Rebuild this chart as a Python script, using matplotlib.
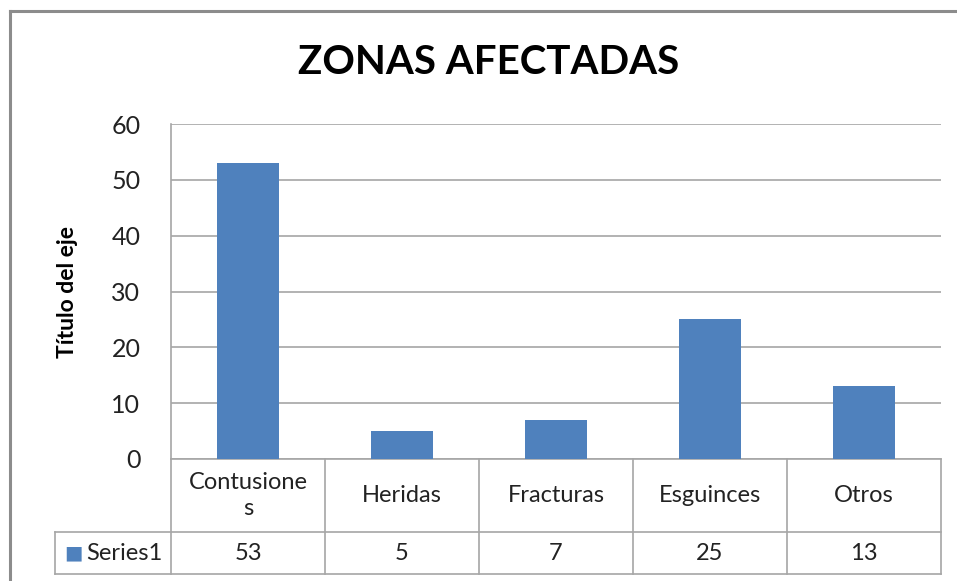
import matplotlib
matplotlib.use("Agg")
import matplotlib.pyplot as plt
from matplotlib.lines import Line2D

# Data -----------------------------------------------------------------------
categories = ["Contusiones", "Heridas", "Fracturas", "Esguinces", "Otros"]
header_labels = ["Contusione\ns", "Heridas", "Fracturas", "Esguinces", "Otros"]
series_name = "Series1"
values = [53, 5, 7, 25, 13]
y_ticks = [0, 10, 20, 30, 40, 50, 60]

# Style ----------------------------------------------------------------------
plt.rcParams["font.family"] = ["Lato", "DejaVu Sans"]
bar_color = "#4F81BD"
grid_color = "#A6A6A6"
text_color = "#222222"

W, H = 957, 581
fig = plt.figure(figsize=(W / 100, H / 100), dpi=100)

# plot area in pixels (left, top, right, bottom)
px_l, px_t, px_r, px_b = 171, 124, 941, 459
ax = fig.add_axes([px_l / W, 1 - px_b / H, (px_r - px_l) / W, (px_b - px_t) / H])

x = list(range(len(categories)))
ax.bar(x, values, width=0.4, color=bar_color, zorder=3)
ax.set_xlim(-0.5, len(categories) - 0.5)
ax.set_ylim(0, 60)
ax.set_yticks(y_ticks)
ax.set_xticks([])
ax.yaxis.grid(True, color=grid_color, linewidth=1.2, zorder=0)
ax.tick_params(axis="y", length=0, pad=22, labelsize=18, labelcolor=text_color)
for s in ["top", "right", "bottom"]:
    ax.spines[s].set_visible(False)
ax.spines["left"].set_color(grid_color)
ax.spines["left"].set_linewidth(1.2)
ax.set_ylabel("Título del eje", fontsize=16.5, fontweight="bold", labelpad=24)

fig.text(0.5 + 10 / W, 1 - 62 / H, "ZONAS AFECTADAS", ha="center", va="center",
         fontsize=29, fontweight="bold", color="black")

# Data table under the plot ---------------------------------------------------
tr = ax.get_xaxis_transform()
axh = px_b - px_t
row1 = -(532 - px_b) / axh
row2 = -(574 - px_b) / axh
col_w = (px_r - px_l) / len(categories)
tbl_left = -0.5 - (px_l - 55) / col_w
n = len(categories)

def hline(x0, x1, y):
    ax.add_line(Line2D([x0, x1], [y, y], transform=tr, color=grid_color,
                       linewidth=1.2, clip_on=False))

def vline(xv, y0, y1):
    ax.add_line(Line2D([xv, xv], [y0, y1], transform=tr, color=grid_color,
                       linewidth=1.2, clip_on=False))

hline(-0.5, n - 0.5, 0)
hline(tbl_left, n - 0.5, row1)
hline(tbl_left, n - 0.5, row2)
for k in range(n + 1):
    vline(k - 0.5, 0, row2)
vline(tbl_left, row1, row2)

for k, (lab, v) in enumerate(zip(header_labels, values)):
    ax.text(k, row1 / 2, lab, transform=tr, ha="center", va="center",
            fontsize=17, color=text_color, linespacing=1.35)
    ax.text(k, (row1 + row2) / 2, str(v), transform=tr, ha="center", va="center",
            fontsize=17, color=text_color)

ax.text(tbl_left + 0.06, (row1 + row2) / 2, "■", transform=tr, ha="left", va="center",
        fontsize=14, color=bar_color, family="DejaVu Sans")
ax.text(tbl_left + 0.2, (row1 + row2) / 2, series_name, transform=tr, ha="left",
        va="center", fontsize=17, color=text_color)

# Outer chart border (cropped on the right and bottom)
fig.add_artist(Line2D([10 / W, 1], [1 - 11 / H, 1 - 11 / H], transform=fig.transFigure,
                      color="#8C8C8C", linewidth=2.2))
fig.add_artist(Line2D([10 / W, 10 / W], [1 - 11 / H, 0], transform=fig.transFigure,
                      color="#8C8C8C", linewidth=2.2))

fig.savefig("out.png", dpi=100, facecolor="white")
